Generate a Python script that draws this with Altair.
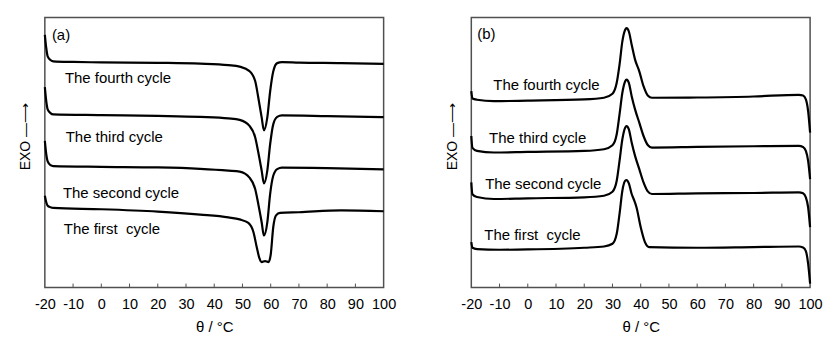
import altair as alt
import pandas as pd

# ---------------- panel (a): heating curves (endothermic dip ~58 °C) -------------
A4_T = [-20, -19.5, -19, -18, -17, -10, 0, 20, 35, 45, 49, 52.5, 54.5, 55.6, 56.8, 57.6, 58.8, 59.8, 60.9, 62.3, 64, 70, 85, 100]
A4_Y = [254, 240.7, 232.3, 228.7, 227.3, 226.7, 226.3, 225.8, 225, 223.5, 222, 217.5, 207.5, 191, 171, 158, 171, 197, 217, 225.5, 226.5, 226, 225.5, 224.7]

A3_T = [-20, -19.5, -19, -18, -17, 0, 20, 35, 45, 49, 52.5, 54.5, 55.6, 56.8, 57.6, 58.8, 59.8, 60.9, 62.3, 64, 80, 100]
A3_Y = [201.3, 187.3, 179, 175.3, 174, 173.3, 172.5, 171.5, 170, 168.5, 162.5, 151, 136, 117.5, 104.6, 117.5, 144, 164, 171.5, 173, 172.3, 171.3]

A2_T = [-20, -19.5, -19, -18, -17, 0, 20, 35, 45, 49, 52.5, 54.5, 55.6, 56.8, 57.6, 58.8, 59.8, 60.9, 62.3, 64, 80, 100]
A2_Y = [147.3, 134, 126.7, 123, 122, 121.3, 120.7, 119.3, 117.5, 116.5, 110.5, 99, 84, 65.6, 52.3, 65.6, 94, 112.3, 119, 120.5, 120, 118.7]

A1_T = [-20, -19.5, -19, -18, -17, 0, 20, 35, 45, 49, 52.1, 53.9, 55.1, 56, 56.8, 58, 59.2, 60, 60.9, 61.9, 63.3, 70, 85, 100]
A1_Y = [92.3, 85.7, 82.3, 80.7, 80, 78.7, 76.3, 73.3, 70.5, 68.5, 65, 55.6, 40, 29.5, 25.6, 26.6, 25.6, 33, 60.6, 72.5, 75, 75.7, 77.5, 76.7]

# ---------------- panel (b): cooling curves (exothermic peak ~35 °C) -------------
B_T = [-20, -19.6, -18, -12, 0, 20, 27, 30, 31.5, 32.5, 33.5, 34.5, 35, 35.8, 36.8, 38, 39.5, 41, 42.5, 44, 60, 80, 96, 97.5, 98.5, 99.3, 100]
B4_Y = [197.3, 190, 188.7, 187.3, 187.8, 189, 190.7, 194.7, 205.7, 224, 247.3, 259, 260.7, 257.3, 244, 229, 217.3, 202.3, 193, 190.7, 191, 192, 193.7, 193, 189, 177.3, 155.7]
B3_Y = [152.3, 140.3, 137.3, 135.7, 136.3, 137.3, 139, 143, 154, 174, 195.7, 207.3, 209, 205.7, 192.3, 179, 165.7, 152.3, 143.3, 140.7, 141.3, 142, 142.3, 141.3, 137.3, 127.3, 109]
B2_Y = [105.7, 93.7, 91, 89, 89.7, 90.7, 92.3, 96.3, 107.3, 127.3, 149, 160.7, 162.3, 159, 145.7, 132.3, 119, 105.7, 96.7, 94, 94.7, 95, 95.7, 94.7, 90.7, 80.7, 60.7]
B1_T = [-20, -19.6, -18, -10, 0, 20, 27, 30, 31.5, 32.5, 33.5, 34.5, 35, 35.8, 36.8, 37.5, 38.5, 40, 41.5, 43, 60, 80, 96, 97.5, 98.5, 99.3, 100]
B1_Y = [45.7, 40, 38.7, 38, 38.3, 40, 41.3, 44, 54, 74, 97.3, 107.3, 108, 104.7, 94, 89, 80.7, 60.7, 45.7, 40.7, 40, 40.7, 41.3, 40.3, 36.7, 24, 4]

# ---------------- labels -------------
CYCLES = ["The fourth cycle", "The third cycle", "The second cycle", "The first\u00a0 cycle"]
A_LABEL_T = [-12.9, -12.6, -13.6, -13.3]
A_LABEL_Y = [211, 151, 95, 59]
B_LABEL_T = [-12.2, -13.7, -15.1, -15.4]
B_LABEL_Y = [204, 150, 104, 53]
TAGS = ["(a)", "(b)"]
TAG_T = [-17.5, -17.9]
TAG_Y = [254, 255]
X_TICKS = list(range(-20, 101, 10))
INNER_TICKS = X_TICKS[1:-1]

FONT = "Liberation Sans"
W, H = 340, 271


def curves_df(curves):
    rows = []
    for name, ts, ys in curves:
        for i, (t, y) in enumerate(zip(ts, ys)):
            rows.append({"cycle": name, "T": t, "v": y, "i": i})
    return pd.DataFrame(rows)


xscale = alt.Scale(domain=[-20, 100], nice=False, zero=False)
yscale = alt.Scale(domain=[0, 271.3], nice=False, zero=False)

xaxis = alt.Axis(values=X_TICKS, title="θ / °C", grid=False, domain=False, ticks=False,
                 labelFont=FONT, labelFontSize=14.5, labelColor="black", labelPadding=10,
                 labelFlush=False, labelOverlap=False, labelExpr="datum.value + ''",
                 titleFont=FONT, titleFontSize=15, titleFontWeight="normal", titleColor="black",
                 titlePadding=9)
yaxis = alt.Axis(labels=False, ticks=False, domain=False, grid=False, title="EXO —⟶",
                 titleFont=FONT, titleFontSize=14, titleFontWeight="normal", titleColor="black",
                 titleAngle=270, titleAlign="center", titleBaseline="middle",
                 titleX=-19, titleY=119)


def X():
    return alt.X("T:Q", scale=xscale, axis=xaxis)


def Y():
    return alt.Y("v:Q", scale=yscale, axis=yaxis)


def panel(curves, lab_t, lab_y, tag, tag_t, tag_y):
    df = curves_df(curves)
    lines = alt.Chart(df).mark_line(color="black", strokeWidth=2.2, interpolate="monotone").encode(
        x=X(), y=Y(), detail="cycle:N", order="i:Q",
    )
    ldf = pd.DataFrame({"T": lab_t, "v": lab_y, "label": CYCLES})
    labels = alt.Chart(ldf).mark_text(align="left", baseline="middle", font=FONT, fontSize=15,
                                       color="black").encode(x=X(), y=Y(), text="label:N")
    tdf = pd.DataFrame({"T": [tag_t], "v": [tag_y], "label": [tag]})
    tagm = alt.Chart(tdf).mark_text(align="left", baseline="middle", font=FONT, fontSize=15,
                                     color="black").encode(x=X(), y=Y(), text="label:N")
    kdf = pd.DataFrame({"T": INNER_TICKS})
    ticks = alt.Chart(kdf).mark_rule(color="#505050", strokeWidth=1).encode(
        x=X(), y=alt.value(H), y2=alt.value(H - 4))
    return alt.layer(lines, ticks, labels, tagm).properties(width=W, height=H)


pa = panel([("4", A4_T, A4_Y), ("3", A3_T, A3_Y), ("2", A2_T, A2_Y), ("1", A1_T, A1_Y)],
           A_LABEL_T, A_LABEL_Y, TAGS[0], TAG_T[0], TAG_Y[0])
pb = panel([("4", B_T, B4_Y), ("3", B_T, B3_Y), ("2", B_T, B2_Y), ("1", B1_T, B1_Y)],
           B_LABEL_T, B_LABEL_Y, TAGS[1], TAG_T[1], TAG_Y[1])

chart = alt.hconcat(pa, pb, spacing=48).properties(
    padding={"left": 18, "top": 16, "right": 15, "bottom": 5},
    background="white",
).configure_view(stroke="#505050", strokeWidth=1.5)

chart.save("out.html", embed_options={"renderer": "svg", "actions": False})
